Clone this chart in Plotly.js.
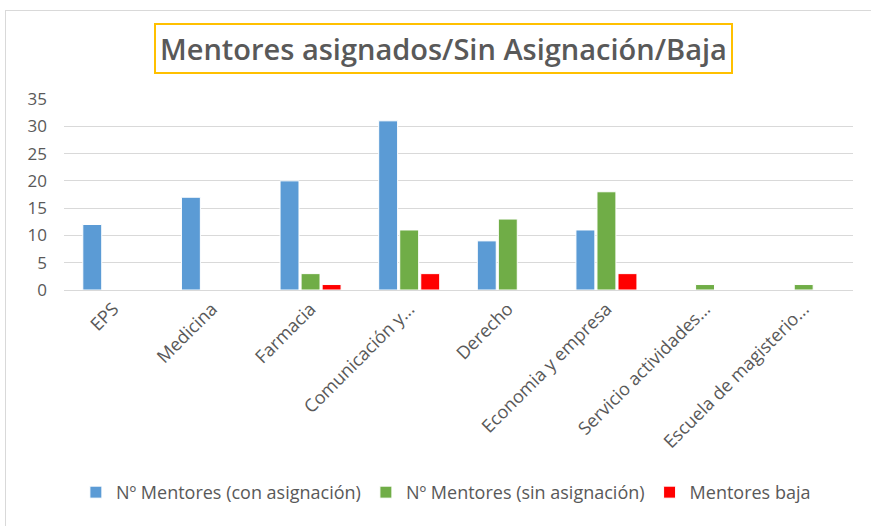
<!DOCTYPE html>
<html>
<head>
<meta charset="utf-8">
<script src="https://cdn.plot.ly/plotly-3.0.1.min.js"></script>
<style>
  html, body { margin: 0; padding: 0; background: #ffffff; overflow: hidden; }
  #frame { position: absolute; left: 5px; top: 10px; width: 900px; height: 600px; border: 1px solid #d9d9d9; box-sizing: border-box; }
  #chart { position: absolute; left: 0; top: 0; width: 871px; height: 526px; }
</style>
</head>
<body>
<div id="frame"></div>
<div id="chart"></div>
<script>
const categories = ["EPS", "Medicina", "Farmacia", "Comunicación y...", "Derecho", "Economia y empresa", "Servicio actividades...", "Escuela de magisterio..."];
const conAsignacion = [12, 17, 20, 31, 9, 11, 0, 0];
const sinAsignacion = [0, 0, 3, 11, 13, 18, 1, 1];
const mentoresBaja = [0, 0, 1, 3, 0, 3, 0, 0];
const seriesNames = ["Nº Mentores (con asignación)", "Nº Mentores (sin asignación)", "Mentores baja"];
const titleText = "Mentores asignados/Sin Asignación/Baja";

const FONT = "Open Sans, Liberation Sans, sans-serif";
const grey = "#595959";

const mk = (name, y, color) => ({
  type: "bar", name: name, x: categories, y: y,
  marker: { color: color, line: { color: "#ffffff", width: 1 } },
  hoverinfo: "x+y"
});

const data = [
  mk(seriesNames[0], conAsignacion, "#5b9bd5"),
  mk(seriesNames[1], sinAsignacion, "#70ad47"),
  mk(seriesNames[2], mentoresBaja, "#ff0000")
];

const layout = {
  width: 871, height: 526,
  paper_bgcolor: "rgba(0,0,0,0)", plot_bgcolor: "rgba(0,0,0,0)",
  margin: { l: 64, r: 18, t: 99, b: 236 },
  font: { family: FONT, color: grey, size: 15 },
  barmode: "group", bargap: 0.36, bargroupgap: 0.1,
  showlegend: true,
  legend: { orientation: "h", x: 0.484, xanchor: "center", y: -1.06, yanchor: "middle",
            font: { size: 18, color: grey }, itemwidth: 30, tracegroupgap: 0 },
  xaxis: { type: "category", tickangle: -45, showgrid: false, zeroline: false,
           showline: false, ticks: "", ticklabelstandoff: 4, tickfont: { size: 18, color: grey } },
  yaxis: { range: [0, 35], dtick: 5, showgrid: true, gridcolor: "#d9d9d9", gridwidth: 1,
           zeroline: true, zerolinecolor: "#d9d9d9", zerolinewidth: 1, showline: false,
           ticks: "", ticklabelstandoff: 16, tickfont: { size: 17, color: grey } },
  annotations: [{
    text: titleText, xref: "paper", yref: "paper", x: (443 - 64) / 789, y: (290 - 48) / 191,
    xanchor: "center", yanchor: "middle", showarrow: false,
    font: { family: FONT, size: 29, color: grey, weight: 600 },
    bordercolor: "#ffc000", borderwidth: 2, borderpad: 4, bgcolor: "#ffffff"
  }]
};

Plotly.newPlot("chart", data, layout, { displayModeBar: false, staticPlot: true });
</script>
</body>
</html>
